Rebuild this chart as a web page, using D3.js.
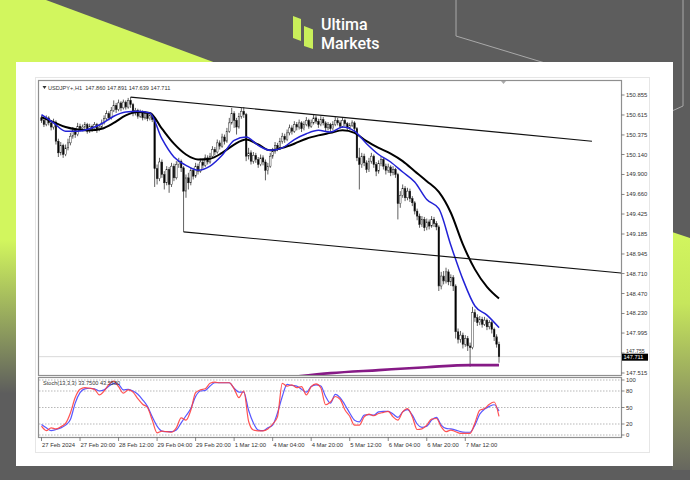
<!DOCTYPE html>
<html><head><meta charset="utf-8">
<script src="https://cdn.jsdelivr.net/npm/d3@7/dist/d3.min.js"></script>
<style>html,body{margin:0;padding:0;background:#5d5d5d;}svg{display:block;}</style>
</head><body>
<svg id="c" width="690" height="480"></svg>
<script>
// ---------- DATA ----------
const opens = [150.58,150.55,150.50,150.58,150.52,150.47,150.53,150.30,150.16,150.25,150.14,150.22,150.28,150.36,150.43,150.38,150.48,150.45,150.47,150.50,
150.42,150.48,150.45,150.50,150.44,150.47,150.52,150.57,150.63,150.58,150.67,150.73,150.68,150.76,150.70,150.77,150.71,150.79,150.74,150.64,
150.67,150.60,150.65,150.58,150.63,150.57,150.61,150.56,149.97,149.85,150.05,149.90,149.80,149.96,149.78,150.00,149.86,150.02,150.06,149.98,
149.70,149.86,149.80,149.95,149.88,150.00,149.94,150.05,150.01,150.10,150.05,150.12,150.20,150.17,150.28,150.24,150.35,150.30,150.42,150.52,
150.63,150.55,150.47,150.60,150.66,150.62,150.12,150.16,150.06,150.13,150.08,150.02,150.10,150.05,149.95,150.00,150.12,150.18,150.25,150.22,
150.30,150.36,150.32,150.40,150.46,150.42,150.50,150.47,150.52,150.45,150.50,150.55,150.48,150.52,150.58,150.54,150.50,150.56,150.52,150.46,
150.50,150.45,150.50,150.55,150.52,150.48,150.55,150.51,150.46,150.49,150.52,150.45,150.10,150.02,150.12,150.04,149.96,150.06,150.12,150.02,
149.94,150.03,150.08,150.00,149.95,149.99,149.92,149.96,149.90,149.55,149.65,149.73,149.62,149.70,149.61,149.56,149.46,149.40,149.30,149.36,
149.26,149.33,149.28,149.36,149.31,149.27,148.56,148.68,148.62,148.73,148.61,148.66,148.56,148.01,147.92,147.97,147.86,147.93,147.84,147.82,
148.24,148.18,148.12,148.16,148.10,148.15,148.07,148.12,148.04,147.95,147.860];
const highs = [150.61,150.58,150.61,150.60,150.55,150.57,150.55,150.33,150.29,150.27,150.26,150.33,150.40,150.47,150.46,150.52,150.51,150.50,150.53,150.52,
150.51,150.50,150.53,150.52,150.50,150.56,150.61,150.67,150.66,150.71,150.79,150.76,150.80,150.78,150.80,150.79,150.82,150.83,150.76,150.70,
150.69,150.68,150.67,150.66,150.65,150.64,150.63,150.58,150.02,150.10,150.08,149.94,150.00,149.99,150.04,150.03,150.06,150.10,150.08,150.00,
149.90,149.92,149.99,149.98,150.04,150.03,150.09,150.08,150.14,150.13,150.16,150.24,150.23,150.32,150.31,150.39,150.38,150.46,150.58,150.70,
150.66,150.58,150.64,150.70,150.71,150.64,150.22,150.19,150.17,150.16,150.11,150.14,150.13,150.08,150.04,150.16,150.22,150.29,150.28,150.34,
150.40,150.39,150.44,150.50,150.49,150.54,150.53,150.56,150.54,150.54,150.59,150.57,150.56,150.62,150.61,150.57,150.60,150.59,150.54,150.53,
150.52,150.54,150.59,150.58,150.55,150.59,150.57,150.53,150.52,150.55,150.54,150.47,150.22,150.16,150.15,150.07,150.10,150.16,150.14,150.05,
150.07,150.12,150.10,150.03,150.03,150.01,150.00,149.98,149.92,149.70,149.78,149.76,149.74,149.73,149.64,149.58,149.49,149.43,149.40,149.39,
149.37,149.36,149.40,149.39,149.34,149.29,148.73,148.74,148.78,148.76,148.70,148.69,148.58,148.05,148.02,148.00,147.97,147.96,147.88,148.31,
148.28,148.22,148.20,148.19,148.19,148.17,148.15,148.14,148.06,147.98,147.891];
const lows = [150.52,150.47,150.48,150.49,150.43,150.44,150.26,150.11,150.13,150.10,150.12,150.19,150.25,150.33,150.34,150.36,150.42,150.42,150.44,150.39,
150.40,150.41,150.43,150.40,150.42,150.45,150.50,150.55,150.55,150.56,150.65,150.64,150.66,150.66,150.68,150.68,150.69,150.70,150.60,150.61,
150.57,150.58,150.55,150.56,150.54,150.55,150.53,149.75,149.78,149.82,149.86,149.72,149.77,149.68,149.75,149.82,149.84,149.98,149.93,149.21,
149.62,149.72,149.77,149.84,149.86,149.90,149.92,149.97,149.99,150.02,150.03,150.10,150.13,150.15,150.20,150.22,150.26,150.28,150.40,150.50,
150.46,150.38,150.45,150.57,150.58,150.06,150.08,150.02,150.03,150.04,149.98,150.00,150.01,149.83,149.90,149.98,150.09,150.15,150.18,150.20,
150.27,150.28,150.30,150.37,150.38,150.40,150.43,150.44,150.41,150.43,150.48,150.45,150.46,150.50,150.51,150.46,150.48,150.49,150.42,150.43,
150.41,150.43,150.48,150.49,150.45,150.46,150.48,150.43,150.44,150.47,150.42,150.06,149.72,149.98,150.00,149.92,149.93,150.03,149.98,149.88,
149.91,150.00,149.96,149.90,149.92,149.88,149.89,149.86,149.36,149.50,149.62,149.58,149.59,149.57,149.52,149.42,149.35,149.26,149.27,149.22,
149.23,149.24,149.26,149.27,149.23,148.50,148.52,148.58,148.59,148.57,148.56,148.50,147.93,147.87,147.88,147.81,147.83,147.78,147.59,147.80,
148.13,148.08,148.09,148.06,148.08,148.03,148.04,147.99,147.90,147.82,147.639];
const closes = [150.55,150.50,150.58,150.52,150.47,150.53,150.30,150.16,150.25,150.14,150.22,150.28,150.36,150.43,150.38,150.48,150.45,150.47,150.50,150.42,
150.48,150.45,150.50,150.44,150.47,150.52,150.57,150.63,150.58,150.67,150.73,150.68,150.76,150.70,150.77,150.71,150.79,150.74,150.64,150.67,
150.60,150.65,150.58,150.63,150.57,150.61,150.56,149.97,149.85,150.05,149.90,149.80,149.96,149.78,150.00,149.86,150.02,150.06,149.98,149.70,
149.86,149.80,149.95,149.88,150.00,149.94,150.05,150.01,150.10,150.05,150.12,150.20,150.17,150.28,150.24,150.35,150.30,150.42,150.52,150.63,
150.55,150.47,150.60,150.66,150.62,150.12,150.16,150.06,150.13,150.08,150.02,150.10,150.05,149.95,150.00,150.12,150.18,150.25,150.22,150.30,
150.36,150.32,150.40,150.46,150.42,150.50,150.47,150.52,150.45,150.50,150.55,150.48,150.52,150.58,150.54,150.50,150.56,150.52,150.46,150.50,
150.45,150.50,150.55,150.52,150.48,150.55,150.51,150.46,150.49,150.52,150.45,150.10,150.02,150.12,150.04,149.96,150.06,150.12,150.02,149.94,
150.03,150.08,150.00,149.95,149.99,149.92,149.96,149.90,149.55,149.65,149.73,149.62,149.70,149.61,149.56,149.46,149.40,149.30,149.36,149.26,
149.33,149.28,149.36,149.31,149.27,148.56,148.68,148.62,148.73,148.61,148.66,148.56,148.01,147.92,147.97,147.86,147.93,147.84,147.82,148.24,
148.18,148.12,148.16,148.10,148.15,148.07,148.12,148.04,147.95,147.86,147.711];

// moving averages read at every 5th bar
const maStep = 5;
const maSlow = [150.59,150.53,150.47,150.44,150.43,150.45,150.52,150.61,150.65,150.64,150.45,150.27,150.14,150.08,150.09,150.16,150.26,150.32,150.26,150.19,
150.22,150.27,150.33,150.37,150.40,150.43,150.40,150.30,150.22,150.15,150.06,149.94,149.82,149.69,149.44,149.06,148.76,148.55,148.41];
const maFast = [150.62,150.52,150.42,150.42,150.45,150.51,150.60,150.65,150.66,150.64,150.33,150.11,150.01,149.95,150.00,150.13,150.31,150.35,150.25,150.19,
150.22,150.32,150.39,150.43,150.41,150.47,150.42,150.27,150.14,150.05,149.93,149.81,149.60,149.49,149.05,148.64,148.32,148.21,148.06];

// purple curve (bar index, price)
const purpleIdx = [105,120,140,160,178,190];
const purpleVal = [147.47,147.514,147.55,147.585,147.61,147.61];

// trend lines [[barIndex, price],[barIndex, price]]
const trendUpper = [[37,150.83],[228.6,150.30]];
const trendLower = [[59,149.21],[240.7,148.716]];

// stochastic read at every 2nd bar
const stochStep = 2;
const stochMain = [16,8,13,11,15,21,40,68,83,86, 85,83,73,80,92,98,88,76,82,78, 66,56,50,27,4,7,6,5,13,31, 27,45,77,82,84,94,96,95,95,95,
84,68,80,25,9,7.5,7.5,11,20,33, 94,89,91,86,88,73,88,93,86,55, 60,70,65,46,34,18,18,33,38,35, 39,41,43,33,27,42,48,33,10,11,
18,29,30,15,6,9,6,3,3,3, 22,45,48,56,60,33.75];
const stochSignal = [19,13,8,10,13,18,28,58,77,84, 85,84,80,82,89,94,92,82,83,80, 74,64,52,33,16,7,6,6,9,22, 35,48,70,80,81,89,95,95,95,95,
85,78,78,45,22,9,8,13,18,40, 70,92,90,89,83,78,88,91,89,70, 58,74,68,55,40,27,24,36,37,36, 42,43,43,38,32,42,46,36,20,14,
16,27,32,18,12,11,9,6,5,5, 18,38,47,52,55,43.56];
const stochLevels = [100,80,50,20,0];

const priceTicks = ["150.855","150.615","150.375","150.140","149.900","149.660","149.425","149.185","148.945","148.710","148.470","148.230","147.995","147.755","147.515"];
const timeTickIdx = [0,16,32,48,64,80,96,112,128,144,160,176];
const timeTickLabels = ["27 Feb 2024","27 Feb 20:00","28 Feb 12:00","29 Feb 04:00","29 Feb 20:00","1 Mar 12:00","4 Mar 04:00","4 Mar 20:00","5 Mar 12:00","6 Mar 04:00","6 Mar 20:00","7 Mar 12:00"];
const headerText = "USDJPY+,H1  147.860 147.891 147.639 147.711";
const stochText = "Stoch(13,3,3) 33.7500 43.5580";
const lastPrice = 147.711;

// ---------- DRAW ----------
const svg = d3.select("#c");
const LIME = "#d2f65e", BG = "#5d5d5d";
const defs = svg.append("defs");
const gl = defs.append("linearGradient").attr("id","gl").attr("gradientUnits","userSpaceOnUse").attr("x1",0).attr("x2",0).attr("y1",0).attr("y2",480);
gl.append("stop").attr("offset",0).attr("stop-color",LIME);
gl.append("stop").attr("offset",0.5).attr("stop-color",LIME);
gl.append("stop").attr("offset",0.82).attr("stop-color",BG);
const gr = defs.append("linearGradient").attr("id","gr").attr("gradientUnits","userSpaceOnUse").attr("x1",0).attr("x2",0).attr("y1",232).attr("y2",470);
gr.append("stop").attr("offset",0).attr("stop-color",LIME);
gr.append("stop").attr("offset",0.3).attr("stop-color","#c6e65c");
gr.append("stop").attr("offset",0.72).attr("stop-color","#8c9560");
gr.append("stop").attr("offset",1).attr("stop-color","#67675f");
defs.append("clipPath").attr("id","mainClip").append("rect").attr("x",39).attr("y",81).attr("width",582).attr("height",294);
defs.append("clipPath").attr("id","stClip").append("rect").attr("x",39).attr("y",378).attr("width",582).attr("height",59);

svg.append("rect").attr("width",690).attr("height",480).attr("fill",BG);
svg.append("rect").attr("x",0).attr("y",0).attr("width",17).attr("height",470).attr("fill","url(#gl)");
svg.append("path").attr("d","M0,0 L46,0 L216,63 L0,63 Z").attr("fill",LIME);
svg.append("path").attr("d","M672,232 L690,238 L690,470 L672,470 Z").attr("fill","url(#gr)");
svg.append("path").attr("d","M456,0 V36 L545,63 M683,0 V106 L672,111").attr("fill","none").attr("stroke","#a9a9a9").attr("stroke-width",1);

// logo
svg.append("path").attr("d","M293,16 L301,19 L301,41 L293,38 Z").attr("fill","#c9ef5a");
svg.append("path").attr("d","M304,26 L313,29.5 L313,49 L304,46 Z").attr("fill","#c9ef5a");
svg.append("text").attr("x",321).attr("y",30).text("Ultima").attr("fill","#fff").attr("font-family","Roboto, 'Open Sans', sans-serif").attr("font-weight",500).attr("font-size",16);
svg.append("text").attr("x",321).attr("y",48.5).text("Markets").attr("fill","#fff").attr("font-family","Roboto, 'Open Sans', sans-serif").attr("font-weight",500).attr("font-size",16);

// card
svg.append("rect").attr("x",16).attr("y",62).attr("width",657).attr("height",404).attr("fill","#fff");
svg.append("rect").attr("x",35.5).attr("y",77.5).attr("width",614).attr("height",375).attr("fill","none").attr("stroke","#e6e6e6");

// scales
const x = d3.scaleLinear().domain([0,190]).range([41.5,499]);
const y = d3.scaleLinear().domain([147.515,150.855]).range([373,95]);
const ys = d3.scaleLinear().domain([0,100]).range([435,380]);

// frames
const FONT = "'Liberation Sans', Arial, sans-serif";
svg.append("rect").attr("x",38.5).attr("y",80.5).attr("width",583).attr("height",295).attr("fill","#fff").attr("stroke","#8f8f8f").attr("stroke-width",1.2);
svg.append("rect").attr("x",38.5).attr("y",377.5).attr("width",583).attr("height",60).attr("fill","#fff").attr("stroke","#8f8f8f").attr("stroke-width",1.2);

const main = svg.append("g").attr("clip-path","url(#mainClip)");
// bid line
main.append("line").attr("x1",39).attr("x2",621).attr("y1",y(lastPrice)).attr("y2",y(lastPrice)).attr("stroke","#cfcfcf").attr("stroke-width",0.8);

// candles
const bars = d3.range(closes.length);
main.append("g").selectAll("line").data(bars).join("line")
  .attr("x1",i=>x(i)).attr("x2",i=>x(i)).attr("y1",i=>y(highs[i])).attr("y2",i=>y(lows[i]))
  .attr("stroke","#1c1c1c").attr("stroke-width",0.7);
main.append("g").selectAll("rect").data(bars).join("rect")
  .attr("x",i=>x(i)-0.8).attr("width",1.6)
  .attr("y",i=>y(Math.max(opens[i],closes[i])))
  .attr("height",i=>Math.max(0.6,Math.abs(y(opens[i])-y(closes[i]))))
  .attr("fill",i=>closes[i]<opens[i]?"#000":"#fff").attr("stroke","#222").attr("stroke-width",0.45);

// MAs
const maLine = d3.line().x((d,k)=>x(k*maStep)).y(d=>y(d)).curve(d3.curveMonotoneX);
main.append("path").attr("d",maLine(maSlow)).attr("fill","none").attr("stroke","#000").attr("stroke-width",2);
main.append("path").attr("d",maLine(maFast)).attr("fill","none").attr("stroke","#2222d6").attr("stroke-width",1.5);

// trend lines
[trendUpper,trendLower].forEach(t=>{
  main.append("line").attr("x1",x(t[0][0])).attr("y1",y(t[0][1])).attr("x2",x(t[1][0])).attr("y2",y(t[1][1]))
    .attr("stroke","#111").attr("stroke-width",1.1);
});

// purple
const pLine = d3.line().x((d,k)=>x(purpleIdx[k])).y(d=>y(d)).curve(d3.curveMonotoneX);
main.append("path").attr("d",pLine(purpleVal)).attr("fill","none").attr("stroke","#861a86").attr("stroke-width",2.6);

// header
svg.append("path").attr("d","M42.5,86 L46.5,86 L44.5,89 Z").attr("fill","#333");
svg.append("text").attr("x",48).attr("y",89.5).text(headerText).attr("font-family",FONT).attr("font-size",5.6).attr("fill","#333").style("white-space","pre");
svg.append("path").attr("d","M501,81 L506,81 L503.5,84 Z").attr("fill","#aaa");

// price axis
const pa = svg.append("g");
priceTicks.forEach(t=>{
  const yy = y(+t);
  const nearLast = Math.abs(yy - y(lastPrice)) < 6;
  pa.append("line").attr("x1",621.5).attr("x2",624.5).attr("y1",yy).attr("y2",yy).attr("stroke","#555").attr("stroke-width",0.7);
  pa.append("text").attr("x",626).attr("y",nearLast ? yy-0.3 : yy+2).text(t).attr("font-family",FONT).attr("font-size",nearLast?5.2:5.9).attr("fill","#333");
});
svg.append("rect").attr("x",622).attr("y",y(lastPrice)-3).attr("width",26).attr("height",7).attr("fill","#000");
svg.append("text").attr("x",623.5).attr("y",y(lastPrice)+2.6).text(lastPrice.toFixed(3)).attr("font-family",FONT).attr("font-size",5.6).attr("fill","#fff");

// stochastic
const st = svg.append("g").attr("clip-path","url(#stClip)");
stochLevels.forEach(v=>{
  st.append("line").attr("x1",39).attr("x2",621).attr("y1",ys(v)).attr("y2",ys(v)).attr("stroke","#9a9a9a").attr("stroke-width",0.7).attr("stroke-dasharray","1.5,1.5");
});
const sLine = d3.line().x((d,k)=>x(k*stochStep)).y(d=>ys(d)).curve(d3.curveMonotoneX);
st.append("path").attr("d",sLine(stochSignal)).attr("fill","none").attr("stroke","#4646ff").attr("stroke-width",1.2).attr("opacity",0.9);
st.append("path").attr("d",sLine(stochMain)).attr("fill","none").attr("stroke","#ff4040").attr("stroke-width",1.2).attr("opacity",0.9);
svg.append("text").attr("x",43).attr("y",385).text(stochText).attr("font-family",FONT).attr("font-size",5.6).attr("fill","#333");
stochLevels.forEach(v=>{
  svg.append("line").attr("x1",621.5).attr("x2",624.5).attr("y1",ys(v)).attr("y2",ys(v)).attr("stroke","#555").attr("stroke-width",0.7);
  svg.append("text").attr("x",626).attr("y",ys(v)+2).text(v).attr("font-family",FONT).attr("font-size",5.9).attr("fill","#333");
});

// time axis
timeTickIdx.forEach((b,k)=>{
  svg.append("line").attr("x1",x(b)).attr("x2",x(b)).attr("y1",437.5).attr("y2",441).attr("stroke","#555").attr("stroke-width",0.7);
  svg.append("text").attr("x",x(b)+0.5).attr("y",446.5).text(timeTickLabels[k]).attr("font-family",FONT).attr("font-size",5.9).attr("fill","#333");
});
</script>
</body></html>
